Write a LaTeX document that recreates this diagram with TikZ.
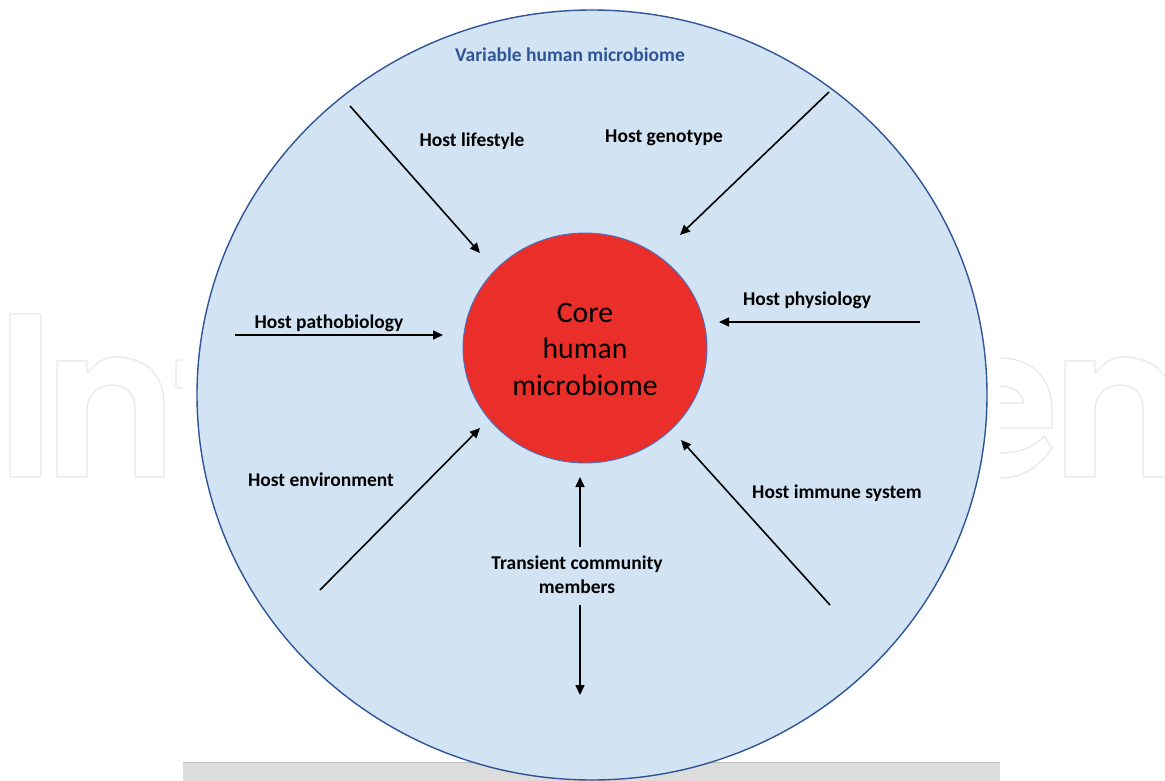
\documentclass[tikz,border=0pt]{standalone}
\usepackage{fontspec}
\setmainfont{Carlito}
\usepackage{xcolor}
\usepackage{tikz}
\usetikzlibrary{arrows.meta,shapes.geometric}

\definecolor{ringfill}{HTML}{D2E4F4}
\definecolor{ringline}{HTML}{2F5597}
\definecolor{corered}{HTML}{EA2E2A}
\definecolor{coreline}{HTML}{4472C4}
\definecolor{barfill}{HTML}{DCDCDC}

\begin{document}
\begin{tikzpicture}[x=1pt,y=-1pt,
    lbl/.style={font=\bfseries\fontsize{19.5}{24}\selectfont,anchor=base,inner sep=0pt},
    arr/.style={-{Triangle[length=10pt,width=9pt]},line width=1.6pt},
    wm/.style={draw=black!9,line width=1.3pt,line join=round}]
  \useasboundingbox (0,0) rectangle (1165,781);

  % faint lettering behind the figure
  \draw[wm,rounded corners=2pt] (10,314) rectangle (41,477);
  \draw[wm,rounded corners=2pt] (176,360) rectangle (192,388);
  \foreach \dx in {0,1008} {
    \draw[wm,xshift=\dx pt] (57,477) -- (57,361) -- (87,361) -- (87,373)
      .. controls (97,362) and (106,357) .. (114,357)
      .. controls (146,357) and (164,375) .. (164,405) -- (164,477) -- (135,477) -- (135,408)
      .. controls (135,393) and (126,385) .. (112,385)
      .. controls (98,385) and (87,395) .. (87,410) -- (87,477) -- cycle;
  }
  \draw[wm] (1000,358) .. controls (1032,358) and (1052,378) .. (1052,410) -- (1052,428) -- (1000,428);
  \draw[wm] (1000,403) -- (1024,403) .. controls (1022,392) and (1012,386) .. (1000,386);
  \draw[wm] (1000,478) .. controls (1024,478) and (1042,465) .. (1052,447) -- (1044,436)
    .. controls (1034,448) and (1018,453) .. (1000,453);
  \fill[white] (183,0) rectangle (1000,762);

  % grey strip along the bottom
  \fill[barfill] (183,762) rectangle (1000,781);
  \draw[black!25,line width=1pt] (183,762.5) -- (1000,762.5);

  % outer and inner rings
  \node[ellipse,draw=ringline,fill=ringfill,line width=1.4pt,
    minimum width=790,minimum height=770,inner sep=0pt] (variable) at (592,395) {};
  \node[ellipse,draw=coreline,fill=corered,line width=0.9pt,
    minimum width=244,minimum height=230,inner sep=0pt] (core) at (585,348) {};
  \node[font=\fontsize{29.7}{36.5}\selectfont,align=center,inner sep=0pt] (coretext) at (585,349)
    {Core\\human\\microbiome};

  \node[lbl,text=ringline] (varlbl) at (570,62) {Variable human microbiome};

  % influences acting on the core
  \coordinate (lifeA) at (350,106);   \coordinate (lifeB) at (480,253);
  \coordinate (genoA) at (829,92);    \coordinate (genoB) at (680,235);
  \coordinate (pathA) at (235,335);   \coordinate (pathB) at (443,335);
  \coordinate (physA) at (920,322);   \coordinate (physB) at (719,322);
  \coordinate (envA) at (320,590);    \coordinate (envB) at (480,428);
  \coordinate (immA) at (830,605);    \coordinate (immB) at (681,440);
  \coordinate (tranA) at (580,547);   \coordinate (tranB) at (580,477);
  \coordinate (tranC) at (580,605);   \coordinate (tranD) at (580,695);
  \foreach \a/\b in {lifeA/lifeB,genoA/genoB,pathA/pathB,physA/physB,envA/envB,
                     immA/immB,tranA/tranB,tranC/tranD}
    \draw[arr] (\a) -- (\b);

  \node[lbl] (life) at (472,147) {Host lifestyle};
  \node[lbl] (geno) at (664,143) {Host genotype};
  \node[lbl] (path) at (329,328) {Host pathobiology};
  \node[lbl] (phys) at (807,305) {Host physiology};
  \node[lbl] (env) at (321,486) {Host environment};
  \node[lbl] (imm) at (837,498) {Host immune system};
  \node[font=\bfseries\fontsize{19.5}{24}\selectfont,align=center,inner sep=0pt] (tran)
    at (577,575) {Transient community\\members};
\end{tikzpicture}
\end{document}
